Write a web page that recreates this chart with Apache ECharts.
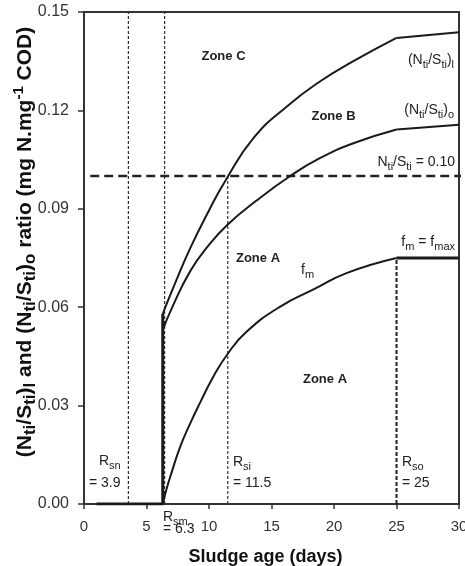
<!DOCTYPE html>
<html>
<head>
<meta charset="utf-8">
<script src="https://cdn.jsdelivr.net/npm/echarts@6/dist/echarts.min.js"></script>
<style>html,body{margin:0;padding:0;background:#fff;}#c{width:465px;height:566px;}</style>
</head>
<body>
<div id="c"></div>
<script>
// ---- data ----
const xTicks = [0, 5, 10, 15, 20, 25, 30];
const yTicks = [0.00, 0.03, 0.06, 0.09, 0.12, 0.15];
const ratioL = [[6.3,0.058],[7.2,0.0665],[8.5,0.078],[10,0.0895],[11.3,0.0985],[13.57,0.1116],[16.23,0.1212],[18.9,0.1289],[21.55,0.135],[25,0.1421],[30,0.1438]];
const ratioO = [[6.3,0.053],[7,0.0595],[8.5,0.071],[10,0.079],[11.5,0.0852],[13.7,0.0922],[16.5,0.1],[18.9,0.1055],[21.55,0.110],[25,0.1142],[30,0.1156]];
const fm = [[6.3,0],[6.6,0.0045],[7,0.0095],[7.7,0.0175],[8.5,0.0246],[9.3,0.031],[10.3,0.0385],[11.5,0.0458],[13,0.0525],[15.7,0.0602],[18.4,0.0655],[21,0.0704],[25,0.075]];
const fmax = [[25,0.075],[30,0.075]];
const stepLine = [[1,0],[6.3,0],[6.3,0.058]];
const limitLine = [[0.5,0.10],[30.5,0.10]];
const Rsn = [[3.55,0],[3.55,0.15]];
const Rsm = [[6.45,0],[6.45,0.15]];
const Rsi = [[11.5,0],[11.5,0.10]];
const Rso = [[25,0],[25,0.075]];

const FF = 'Liberation Sans, Arial, Helvetica, sans-serif';
const C = '#1a1a1a';

const chart = echarts.init(document.getElementById('c'), null, {renderer:'canvas'});

function line(data, opt) {
  return Object.assign({
    type: 'line', data: data, showSymbol: false, symbol: 'none', silent: true,
    lineStyle: {color: C, width: 2}, animation: false, z: 3
  }, opt);
}

function txt(x, y, text, o) {
  o = o || {};
  const fs = o.fontSize || 14;
  return {
    type: 'text', x: x, y: y, silent: true, z: 100,
    rotation: o.rotation || 0,
    style: {
      text: text,
      fontFamily: FF,
      fontSize: fs,
      fontWeight: o.bold ? 'bold' : 'normal',
      fill: o.color || '#222',
      align: o.align || 'left',
      verticalAlign: o.va || 'middle',
      lineHeight: o.lineHeight || Math.round(fs * 1.4),
      rich: {
        sub: {fontSize: Math.round(fs * 0.8), fontFamily: FF, fontWeight: o.bold ? 'bold' : 'normal', fill: o.color || '#222', verticalAlign: 'bottom', lineHeight: Math.round(fs * 0.8)},
        sup: {fontSize: Math.round(fs * 0.7), fontFamily: FF, fontWeight: o.bold ? 'bold' : 'normal', fill: o.color || '#222', verticalAlign: 'top', lineHeight: Math.round(fs * 0.7)}
      }
    }
  };
}

const axisLineStyle = {color: '#333', width: 2};

const option = {
  backgroundColor: '#fff',
  animation: false,
  grid: {left: 84, right: 6, top: 12, bottom: 62, containLabel: false, outerBoundsMode: 'none'},
  xAxis: [{
    type: 'value', min: xTicks[0], max: xTicks[xTicks.length-1], interval: 5,
    axisLine: {show: true, onZero: false, lineStyle: axisLineStyle},
    axisTick: {show: true, inside: false, length: 5, lineStyle: {color: '#333', width: 1.5}},
    axisLabel: {color: '#333', fontFamily: FF, fontSize: 15, margin: 15},
    splitLine: {show: false},
    name: 'Sludge age (days)', nameLocation: 'middle', nameGap: 44,
    nameTextStyle: {fontFamily: FF, fontSize: 18, fontWeight: 'bold', color: '#111', padding: [0, 12, 0, 0]}
  }, {
    type: 'value', position: 'top', min: 0, max: 30,
    axisLine: {show: true, onZero: false, lineStyle: axisLineStyle},
    axisTick: {show: false}, axisLabel: {show: false}, splitLine: {show: false}
  }],
  yAxis: [{
    type: 'value', min: yTicks[0], max: yTicks[yTicks.length-1], interval: 0.03,
    axisLine: {show: true, onZero: false, lineStyle: axisLineStyle},
    axisTick: {show: true, inside: false, length: 6, lineStyle: {color: '#333', width: 1.5}},
    axisLabel: {color: '#333', fontFamily: FF, fontSize: 16, margin: 15, formatter: v => v.toFixed(2)},
    splitLine: {show: false}
  }, {
    type: 'value', position: 'right', min: 0, max: 0.15,
    axisLine: {show: true, onZero: false, lineStyle: axisLineStyle},
    axisTick: {show: false}, axisLabel: {show: false}, splitLine: {show: false}
  }],
  series: [
    line(Rsn, {lineStyle: {color: '#333', width: 1.2, type: [3, 2]}, z: 2}),
    line(Rsm, {lineStyle: {color: '#333', width: 1.2, type: [3, 2]}, z: 2}),
    line(Rsi, {lineStyle: {color: '#333', width: 1.2, type: [3, 2]}, z: 2}),
    line(Rso, {lineStyle: {color: '#222', width: 2, type: [4, 2]}, z: 2}),
    line(limitLine, {lineStyle: {color: '#222', width: 2.5, type: [9, 5]}, clip: false, z: 2}),
    line(stepLine, {lineStyle: {color: C, width: 3}}),
    line(ratioL.filter(p => p[0] <= 25), {smooth: 0.5}),
    line(ratioL.filter(p => p[0] >= 25), {}),
    line(ratioO.filter(p => p[0] <= 25), {smooth: 0.5}),
    line(ratioO.filter(p => p[0] >= 25), {}),
    line(fm, {smooth: 0.5}),
    line(fmax, {lineStyle: {color: C, width: 3}})
  ],
  graphic: [
    txt(25, 242, '(N{sub|ti}/S{sub|ti}){sub|l} and (N{sub|ti}/S{sub|ti}){sub|o} ratio (mg N.mg{sup|-1} COD)', {bold: true, fontSize: 21, align: 'center', rotation: Math.PI / 2, color: '#111', lineHeight: 28}),
    txt(223.5, 56, 'Zone C', {bold: true, fontSize: 13, align: 'center'}),
    txt(333.5, 116, 'Zone B', {bold: true, fontSize: 13, align: 'center'}),
    txt(258, 258.5, 'Zone A', {bold: true, fontSize: 13, align: 'center'}),
    txt(325, 379, 'Zone A', {bold: true, fontSize: 13, align: 'center'}),
    txt(301, 270, 'f{sub|m}', {fontSize: 14}),
    txt(455, 242, 'f{sub|m} = f{sub|max}', {fontSize: 14, align: 'right'}),
    txt(454, 60, '(N{sub|ti}/S{sub|ti}){sub|l}', {fontSize: 14, align: 'right'}),
    txt(454, 110, '(N{sub|ti}/S{sub|ti}){sub|o}', {fontSize: 14, align: 'right'}),
    txt(455, 162, 'N{sub|ti}/S{sub|ti} = 0.10', {fontSize: 14, align: 'right'}),
    txt(99, 461, 'R{sub|sn}', {fontSize: 14}),
    txt(89, 483, '= 3.9', {fontSize: 14}),
    txt(233, 462, 'R{sub|si}', {fontSize: 14}),
    txt(233, 483, '= 11.5', {fontSize: 14}),
    txt(402, 462, 'R{sub|so}', {fontSize: 14}),
    txt(402, 483, '= 25', {fontSize: 14}),
    txt(163, 517, 'R{sub|sm}', {fontSize: 14}),
    txt(163, 529, '= 6.3', {fontSize: 14})
  ]
};
chart.setOption(option);
</script>
</body>
</html>
